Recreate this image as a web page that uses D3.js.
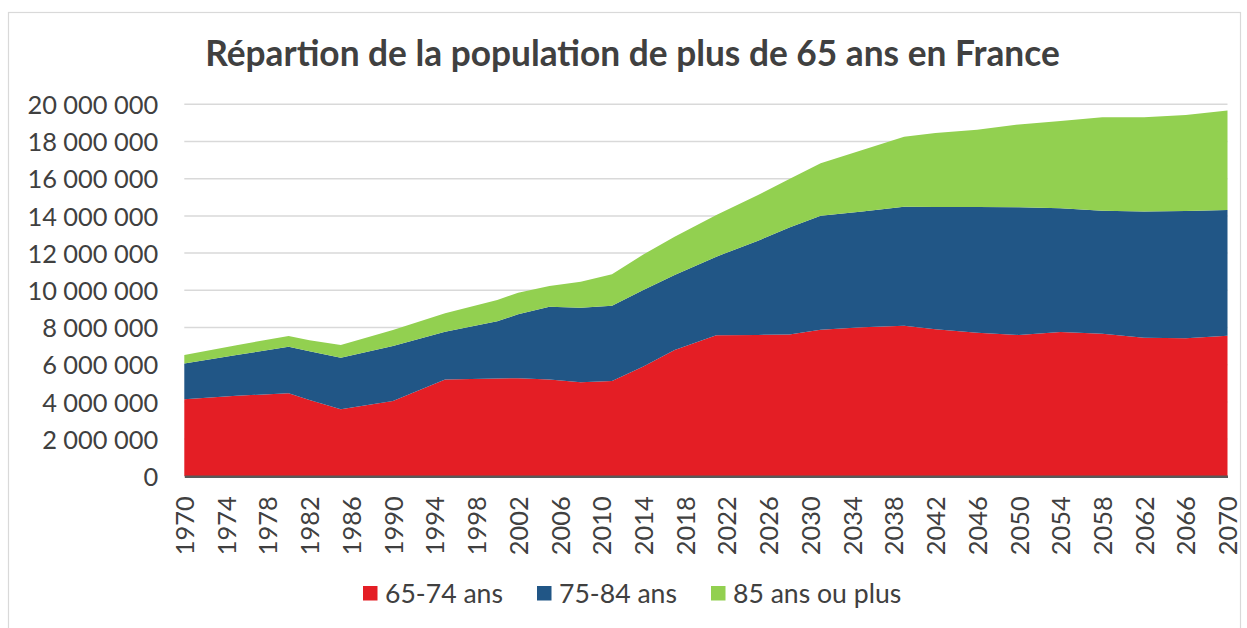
<!DOCTYPE html>
<html>
<head>
<meta charset="utf-8">
<script src="https://cdn.jsdelivr.net/npm/d3@7"></script>
<style>
  body { margin: 0; background: #fff; }
  svg { display: block; }
  text { font-family: "Lato", "Open Sans", sans-serif; fill: #404040; }
</style>
</head>
<body>
<div id="chart"></div>
<script>
// years (where the outline bends)
const years = [1970, 1975, 1980, 1982, 1985, 1990, 1995, 2000, 2002, 2005, 2008, 2011, 2014, 2017, 2021,
  2025, 2028, 2031, 2035, 2039, 2042, 2046, 2050, 2054, 2058, 2062, 2066, 2070];

// values in millions
const age65_74 = [4.14, 4.33, 4.46, 4.10, 3.60, 4.05, 5.21, 5.26, 5.27, 5.21, 5.05, 5.12, 5.90, 6.79, 7.58,
  7.60, 7.63, 7.88, 8.01, 8.10, 7.90, 7.72, 7.60, 7.76, 7.67, 7.45, 7.42, 7.56];
const age75_84 = [1.93, 2.19, 2.51, 2.62, 2.78, 2.95, 2.56, 3.08, 3.44, 3.91, 4.01, 4.05, 4.12, 4.03, 4.23,
  5.07, 5.74, 6.13, 6.22, 6.39, 6.58, 6.76, 6.86, 6.65, 6.61, 6.78, 6.84, 6.76];
const age85plus = [0.45, 0.53, 0.57, 0.59, 0.68, 0.87, 0.99, 1.14, 1.16, 1.11, 1.40, 1.69, 1.90, 2.06, 2.24,
  2.45, 2.61, 2.82, 3.31, 3.76, 3.98, 4.15, 4.46, 4.69, 5.02, 5.08, 5.17, 5.34];

const seriesNames = ["65-74 ans", "75-84 ans", "85 ans ou plus"];
const seriesColors = ["#e41e25", "#215686", "#92d050"];
const yTicks = [0, 2e6, 4e6, 6e6, 8e6, 10e6, 12e6, 14e6, 16e6, 18e6, 20e6];
const xTicks = d3.range(1970, 2071, 4);
const title = "Répartion de la population de plus de 65 ans en France";

const W = 1247, H = 628;
const plot = {left: 184.3, right: 1227.5, top: 104.3, bottom: 476.3};

const table = years.map((y, i) => ({
  year: y,
  "65-74 ans": age65_74[i] * 1e6,
  "75-84 ans": age75_84[i] * 1e6,
  "85 ans ou plus": age85plus[i] * 1e6
}));

const svg = d3.select("#chart").append("svg")
  .attr("width", W)
  .attr("height", H);

// chart frame
svg.append("rect")
  .attr("x", 8.5).attr("y", 12.5)
  .attr("width", 1232).attr("height", 640)
  .attr("fill", "none")
  .attr("stroke", "#d9d9d9")
  .attr("stroke-width", 1.2);

// fit a text to a target width by scaling font size
function fitSize(sel, target) {
  sel.style("font-size", "100px");
  const w = sel.node().getComputedTextLength();
  return 100 * target / w;
}

const x = d3.scaleLinear()
  .domain([1970, 2070])
  .range([plot.left, plot.right]);

const y = d3.scaleLinear()
  .domain([0, 20e6])
  .range([plot.bottom, plot.top]);

// grid
svg.append("g")
  .selectAll("line")
  .data(yTicks.slice(1))
  .join("line")
  .attr("x1", plot.left).attr("x2", plot.right)
  .attr("y1", d => y(d)).attr("y2", d => y(d))
  .attr("stroke", "#d9d9d9")
  .attr("stroke-width", 1.5);

// stacked areas
const stack = d3.stack().keys(seriesNames);
const layers = stack(table);

const area = d3.area()
  .x(d => x(d.data.year))
  .y0(d => y(d[0]))
  .y1(d => y(d[1]));

svg.append("g")
  .selectAll("path")
  .data(layers)
  .join("path")
  .attr("d", area)
  .attr("fill", (d, i) => seriesColors[i]);

// y axis
const fr = d3.formatLocale({decimal: ",", thousands: " ", grouping: [3], currency: ["", " €"]});
const yAxis = svg.append("g")
  .attr("transform", `translate(${plot.left},0)`)
  .call(d3.axisLeft(y).tickValues(yTicks).tickFormat(fr.format(",d")).tickSize(0).tickPadding(26));
yAxis.select(".domain").remove();
yAxis.attr("font-family", null);
const yProbe = yAxis.selectAll("text").filter(d => d === 20e6);
const ySize = fitSize(yProbe, 131);
yAxis.selectAll("text")
  .style("font-size", ySize + "px")
  .attr("fill", "#404040")
  .attr("dy", "0.36em");

// x axis
const xAxis = svg.append("g")
  .attr("transform", `translate(0,${plot.bottom})`)
  .call(d3.axisBottom(x).tickValues(xTicks).tickFormat(d3.format("d")).tickSize(0));
xAxis.attr("font-family", null);
xAxis.select(".domain")
  .attr("stroke", "#595959")
  .attr("stroke-width", 2.5);
const xProbe = xAxis.selectAll("text").filter(d => d === 1970);
const xSize = fitSize(xProbe, 59);
xAxis.selectAll("text")
  .style("font-size", xSize + "px")
  .attr("fill", "#404040")
  .attr("transform", "rotate(-90)")
  .attr("text-anchor", "end")
  .attr("x", -20)
  .attr("y", 0)
  .attr("dy", "0.36em");

// title
const t = svg.append("text")
  .attr("x", 632.5)
  .attr("y", 66)
  .attr("text-anchor", "middle")
  .style("font-weight", "bold")
  .attr("fill", "#404040")
  .text(title);
t.style("font-size", fitSize(t, 855) + "px");

// legend
const legendX = [363, 537, 711];
const legend = svg.append("g");
let legendSize = null;
seriesNames.forEach((name, i) => {
  legend.append("rect")
    .attr("x", legendX[i]).attr("y", 586)
    .attr("width", 14.5).attr("height", 14.5)
    .attr("fill", seriesColors[i]);
  const lt = legend.append("text")
    .attr("x", legendX[i] + 22)
    .attr("y", 593.5)
    .attr("dy", "0.36em")
    .attr("fill", "#404040")
    .text(name);
  if (legendSize === null) legendSize = fitSize(lt, 118);
  lt.style("font-size", legendSize + "px");
});
</script>
</body>
</html>
